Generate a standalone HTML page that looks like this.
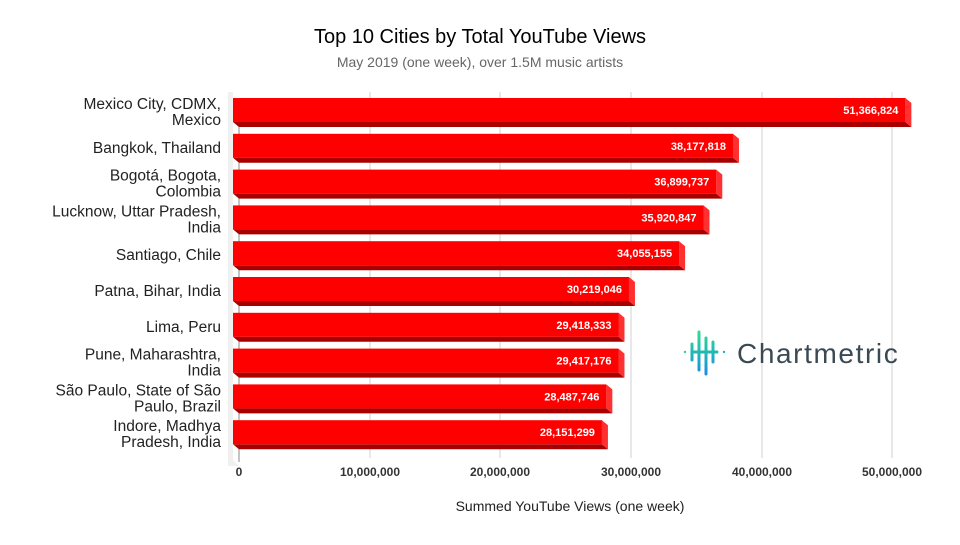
<!DOCTYPE html>
<html><head><meta charset="utf-8"><style>
body{margin:0;background:#fff;width:960px;height:540px;overflow:hidden;font-family:"Liberation Sans",sans-serif}
</style></head><body>
<svg width="960" height="540" xmlns="http://www.w3.org/2000/svg" font-family="Liberation Sans, sans-serif">
<defs>
<linearGradient id="lg" gradientUnits="userSpaceOnUse" x1="0" y1="44" x2="0" y2="0"><stop offset="0" stop-color="#1a8fe0"/><stop offset="1" stop-color="#2ee08a"/></linearGradient>
</defs>
<text x="480" y="43" text-anchor="middle" font-size="20" fill="#000">Top 10 Cities by Total YouTube Views</text>
<text x="480" y="67" text-anchor="middle" font-size="14" fill="#666">May 2019 (one week), over 1.5M music artists</text>
<g stroke="#e0e0e0" stroke-width="1.5">
<line x1="370" y1="92" x2="370" y2="458"/><line x1="500" y1="92" x2="500" y2="458"/><line x1="631" y1="92" x2="631" y2="458"/><line x1="762" y1="92" x2="762" y2="458"/><line x1="892" y1="92" x2="892" y2="458"/>
</g>
<polygon points="228,92 233,92 233,460 239,466 228,466" fill="#f0f0f0"/>
<line x1="239" y1="98" x2="239" y2="462" stroke="#888" stroke-width="1"/>
<g font-size="12" font-weight="bold" fill="#333" text-anchor="middle">
<text x="239" y="476">0</text><text x="370" y="476">10,000,000</text><text x="500" y="476">20,000,000</text><text x="631" y="476">30,000,000</text><text x="762" y="476">40,000,000</text><text x="892" y="476">50,000,000</text>
</g>
<text x="570" y="511" text-anchor="middle" font-size="14" fill="#222">Summed YouTube Views (one week)</text>
<g id="bars"></g>
<g font-size="15.5" fill="#222" text-anchor="end" id="cats"></g>
<g transform="translate(683,330)">
<g stroke="url(#lg)" stroke-width="3" stroke-linecap="round" fill="none">
<circle cx="2" cy="22" r="1.2" fill="#2ad0a0" stroke="none"/>
<circle cx="41" cy="22" r="1.2" fill="#20b0c8" stroke="none"/>
<line x1="9" y1="14" x2="9" y2="30"/><line x1="16" y1="2" x2="16" y2="40"/><line x1="23" y1="8" x2="23" y2="44"/><line x1="30" y1="12" x2="30" y2="32"/>
<line x1="9" y1="22" x2="34" y2="22"/>
</g>
<text x="54" y="33" font-size="28" fill="#3a4a55" letter-spacing="1.6">Chartmetric</text>
</g>
</svg>
<script>
var d=[["Mexico City, CDMX,","Mexico",51366824],["Bangkok, Thailand","",38177818],["Bogotá, Bogota,","Colombia",36899737],["Lucknow, Uttar Pradesh,","India",35920847],["Santiago, Chile","",34055155],["Patna, Bihar, India","",30219046],["Lima, Peru","",29418333],["Pune, Maharashtra,","India",29417176],["São Paulo, State of São","Paulo, Brazil",28487746],["Indore, Madhya","Pradesh, India",28151299]];
var ns="http://www.w3.org/2000/svg",b=document.getElementById("bars"),c=document.getElementById("cats");
function el(p,t,a,tx){var e=document.createElementNS(ns,t);for(var k in a)e.setAttribute(k,a[k]);if(tx)e.textContent=tx;p.appendChild(e);return e;}
d.forEach(function(r,i){var y=98+i*35.8,end=239+r[2]/1e6*13.07,fe=end-5;
el(b,"polygon",{points:(233)+","+(y+24)+" "+fe+","+(y+24)+" "+(end+1)+","+(y+29)+" "+(239)+","+(y+29),fill:"#a80000"});
el(b,"polygon",{points:fe+","+y+" "+(end+1)+","+(y+5)+" "+(end+1)+","+(y+29)+" "+fe+","+(y+24),fill:"#ff3030"});
el(b,"rect",{x:233,y:y,width:fe-233,height:24,fill:"#ff0000"});
el(b,"text",{x:fe-7,y:y+16,"text-anchor":"end","font-size":"11","font-weight":"bold",fill:"#fff"},r[2].toLocaleString("en-US"));
var cy=y+14;
if(r[1]){el(c,"text",{x:221,y:cy-3},r[0]);el(c,"text",{x:221,y:cy+13},r[1]);}else el(c,"text",{x:221,y:cy+5},r[0]);
});
</script>
</body></html>
